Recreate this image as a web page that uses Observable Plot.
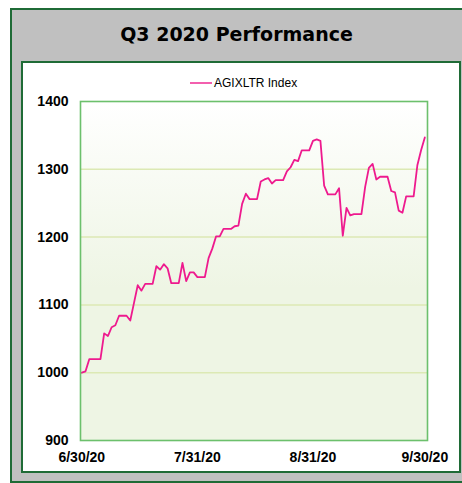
<!DOCTYPE html>
<html><head><meta charset="utf-8">
<script src="https://cdn.jsdelivr.net/npm/d3@7"></script>
<script src="https://cdn.jsdelivr.net/npm/@observablehq/plot@0.6"></script>
<style>
html,body{margin:0;padding:0;background:#fff;width:462px;height:483px;overflow:hidden;}
#outer{position:absolute;left:10px;top:8px;width:470px;height:475px;box-sizing:border-box;border:2px solid #1f6b36;background:#c0c0c0;}
#title{position:absolute;left:0;top:24px;width:473px;text-align:center;font:bold 19px/20px "DejaVu Sans",sans-serif;color:#000;}
#panel{position:absolute;left:21px;top:61px;width:440px;height:412px;box-sizing:border-box;border:2px solid #1f6b36;background:#fff;}
#legend{height:29px;box-sizing:border-box;padding-top:13px;padding-left:167px;font:12px/15px "Liberation Sans",Arial,sans-serif;color:#000;white-space:nowrap;}
#legend .sw{display:inline-block;width:22px;height:2px;background:#f35fae;vertical-align:middle;margin-right:2px;position:relative;top:-1px;}
#chart svg{display:block;}
</style></head>
<body>
<div id="outer"></div>
<div id="title">Q3 2020 Performance</div>
<div id="panel">
  <div id="legend"><span class="sw"></span>AGIXLTR Index</div>
  <div id="chart"></div>
</div>
<script>
// Data: daily index values from 6/30/20 to 9/30/20 (calendar days)
const startDate = "2020-06-30";
const seriesName = "AGIXLTR Index";
const values = [
  1000, 1002, 1020, 1020, 1020, 1020, 1058, 1054, 1067, 1070,
  1084, 1084, 1084, 1077, 1103, 1129, 1121, 1131, 1131, 1131,
  1157, 1152, 1160, 1154, 1132, 1132, 1132, 1162, 1135, 1148,
  1148, 1141, 1141, 1141, 1169, 1183, 1201, 1201, 1212, 1212,
  1212, 1216, 1217, 1249, 1264, 1256, 1256, 1256, 1282, 1285,
  1287, 1279, 1284, 1284, 1284, 1297, 1303, 1314, 1312, 1328,
  1328, 1328, 1342, 1344, 1342, 1276, 1263, 1263, 1263, 1272,
  1202, 1243, 1232, 1234, 1234, 1234, 1274, 1302, 1308, 1285,
  1289, 1289, 1289, 1268, 1266, 1239, 1236, 1260, 1260, 1260,
  1306, 1328, 1347
];
const xTickLabels = ["6/30/20", "7/31/20", "8/31/20", "9/30/20"];
const yTicks = [900, 1000, 1100, 1200, 1300, 1400];
const gridValues = [1000, 1100, 1200, 1300];

const DAY = 864e5;
const t0 = new Date(startDate + "T00:00:00Z");
const data = values.map((v, i) => ({date: new Date(+t0 + i * DAY), value: v}));
const parseLabel = s => { const [m, d, y] = s.split("/").map(Number); return new Date(Date.UTC(2000 + y, m - 1, d)); };
const xTicks = xTickLabels.map(parseLabel);
const tEnd = data[data.length - 1].date;

const plot = Plot.plot({
  width: 436,
  height: 379,
  marginLeft: 57,
  marginRight: 32,
  marginTop: 9,
  marginBottom: 31,
  style: {fontFamily: "'Liberation Sans', Arial, sans-serif", fontSize: "14px", fontWeight: "bold", color: "#000", background: "transparent", overflow: "visible"},
  x: {type: "utc", domain: [new Date(+t0 - 0.35 * DAY), new Date(+tEnd + 0.72 * DAY)], ticks: xTicks, tickFormat: d => xTickLabels[xTicks.findIndex(t => +t === +d)], tickSize: 0, tickPadding: 12, label: null},
  y: {domain: [900, 1400], ticks: yTicks, tickFormat: d => String(d), tickSize: 0, tickPadding: 12, label: null},
  marks: [
    Plot.frame({fill: "url(#bgGrad)", stroke: "none"}),
    Plot.ruleY(gridValues, {stroke: "#dce9b4", strokeWidth: 1.5}),
    Plot.line(data, {x: "date", y: "value", stroke: "#ee1a8e", strokeWidth: 1.8, strokeLinejoin: "round"}),
    Plot.frame({stroke: "#6cc06c", strokeWidth: 1.6, strokeOpacity: 1})
  ]
});

const ns = "http://www.w3.org/2000/svg";
const defs = document.createElementNS(ns, "defs");
const grad = document.createElementNS(ns, "linearGradient");
grad.setAttribute("id", "bgGrad");
grad.setAttribute("x1", "0"); grad.setAttribute("y1", "0");
grad.setAttribute("x2", "0"); grad.setAttribute("y2", "1");
[["0%", "#ffffff"], ["55%", "#eef5e4"], ["100%", "#eef5e4"]].forEach(([o, c]) => {
  const s = document.createElementNS(ns, "stop");
  s.setAttribute("offset", o); s.setAttribute("stop-color", c);
  grad.appendChild(s);
});
defs.appendChild(grad);
plot.insertBefore(defs, plot.firstChild);
document.getElementById("chart").appendChild(plot);
</script>
</body></html>
